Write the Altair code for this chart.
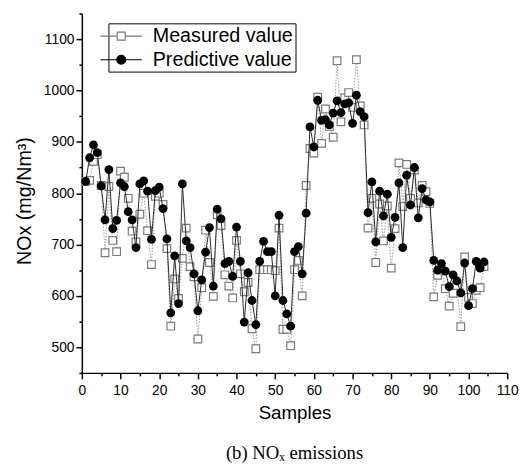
import altair as alt
import pandas as pd

samples = list(range(1, 105))
measured = [823, 825, 862, 875, 815, 684, 813, 708, 686, 843,
            831, 790, 726, 705, 759, 800, 727, 661, 794, 800,
            778, 692, 541, 633, 595, 673, 732, 657, 637, 516,
            616, 728, 665, 599, 758, 737, 641, 619, 596, 708,
            643, 608, 626, 536, 497, 651, 651, 651, 651, 649,
            732, 535, 535, 503, 651, 669, 600, 815, 887, 878,
            987, 897, 964, 930, 909, 1058, 939, 986, 996, 967,
            1060, 970, 933, 732, 790, 665, 779, 707, 775, 654,
            731, 859, 774, 856, 790, 845, 781, 815, 803, 780,
            598, 640, 650, 614, 580, 605, 620, 540, 676, 597,
            585, 611, 616, 657]
predicted = [823, 869, 894, 879, 814, 748, 846, 731, 747, 820,
             813, 764, 748, 694, 818, 824, 804, 710, 805, 812,
             770, 711, 567, 678, 585, 818, 707, 694, 643, 571,
             631, 685, 733, 619, 769, 750, 663, 667, 638, 734,
             667, 549, 645, 591, 544, 667, 706, 686, 686, 600,
             757, 591, 565, 541, 686, 696, 643, 761, 929, 890,
             981, 942, 943, 933, 956, 980, 957, 974, 976, 936,
             991, 959, 949, 762, 822, 705, 804, 756, 798, 714,
             753, 820, 694, 835, 777, 850, 752, 809, 787, 783,
             669, 650, 663, 648, 618, 641, 629, 606, 664, 581,
             614, 667, 654, 666]
series_names = ["Measured value", "Predictive value"]
x_major = list(range(0, 111, 10))
x_minor = list(range(5, 110, 10))
y_major = list(range(500, 1101, 100))
y_minor = list(range(450, 1151, 100))

df = pd.DataFrame({
    "Sample": samples + samples,
    "NOx": measured + predicted,
    "Series": [series_names[0]] * len(samples) + [series_names[1]] * len(samples),
})

FONT = "Liberation Sans"
xscale = alt.Scale(domain=[0, 110], nice=False, zero=False)
yscale = alt.Scale(domain=[450, 1150], nice=False, zero=False)

x_main = alt.X("Sample:Q", scale=xscale, title="Samples",
               axis=alt.Axis(values=x_major, tickSize=6, labelPadding=5, titlePadding=6,
                             labelFlush=False, format="d", orient="bottom"))
y_main = alt.Y("NOx:Q", scale=yscale, title="NOx (mg/Nm³)",
               axis=alt.Axis(values=y_major, tickSize=6, labelPadding=2, titlePadding=9,
                             labelFlush=False, titleFontSize=20, titleY=190, format="d",
                             orient="left"))
x_min = alt.X("Sample:Q", scale=xscale, title=None,
              axis=alt.Axis(values=x_minor, tickSize=3, labels=False, domain=False, orient="bottom"))
y_min = alt.Y("NOx:Q", scale=yscale, title=None,
              axis=alt.Axis(values=y_minor, tickSize=3, labels=False, domain=False, orient="left"))
x_none = alt.X("Sample:Q", scale=xscale, axis=None)
y_none = alt.Y("NOx:Q", scale=yscale, axis=None)

base = alt.Chart(df)
meas = base.transform_filter(alt.datum.Series == series_names[0])
pred = base.transform_filter(alt.datum.Series == series_names[1])

line_meas = meas.mark_line(color="#9a9a9a", strokeWidth=1, strokeDash=[1.5, 1.5]).encode(x=x_main, y=y_main)
pts_meas = meas.mark_point(shape="square", filled=True, fill="white", stroke="#7a7a7a",
                           strokeWidth=1.2, size=60, opacity=1).encode(x=x_none, y=y_none)
line_pred = pred.mark_line(color="#2a2a2a", strokeWidth=1).encode(x=x_none, y=y_none)
pts_pred = pred.mark_point(shape="circle", filled=True, color="black", size=80,
                           opacity=1).encode(x=x_min, y=y_min)

sq_path = "M-2.1,0H-0.4M0.4,0H2.1M-0.4,-0.4H0.4V0.4H-0.4Z"
ci_path = "M-2.1,0H-0.45M0.45,0H2.1M-0.45,0A0.45,0.45,0,1,0,0.45,0A0.45,0.45,0,1,0,-0.45,0Z"
leg = alt.Legend(title=None, orient="none", legendX=27, legendY=10, strokeColor="black",
                 padding=2, symbolOffset=0, labelOffset=21, rowPadding=3,
                 labelFont=FONT, labelFontSize=20, labelColor="black", symbolStrokeWidth=1.2,
                 symbolSize=400)
legend_layer = base.transform_filter("false").mark_point(filled=True, opacity=1, size=400).encode(
    x=x_none,
    y=y_none,
    shape=alt.Shape("Series:N", scale=alt.Scale(domain=series_names, range=[sq_path, ci_path]), legend=leg),
    fill=alt.Fill("Series:N", scale=alt.Scale(domain=series_names, range=["white", "black"]), legend=leg),
    stroke=alt.Stroke("Series:N", scale=alt.Scale(domain=series_names, range=["#7a7a7a", "black"]), legend=leg),
)

chart = alt.layer(line_meas, pts_meas, line_pred, pts_pred, legend_layer).resolve_axis(
    x="independent", y="independent"
).properties(
    width=432, height=365,
    padding={"left": 75, "top": 2, "right": 13, "bottom": 92},
    autosize=alt.AutoSizeParams(type="none"),
    title=alt.TitleParams("(b)  NOₓ emissions", orient="bottom", font="Liberation Serif",
                          fontSize=19, fontWeight="normal", color="black", offset=22,
                          anchor="middle", frame="group"),
).configure_view(stroke=None).configure_axis(
    grid=False, domainColor="black", domainWidth=1.5, tickColor="black", tickWidth=1.5,
    labelFont=FONT, labelFontSize=14, labelColor="black",
    titleFont=FONT, titleFontSize=19, titleFontWeight="normal", titleColor="black",
).configure_point(opacity=1)

chart.save("out.html", embed_options={"renderer": "svg", "actions": False})
